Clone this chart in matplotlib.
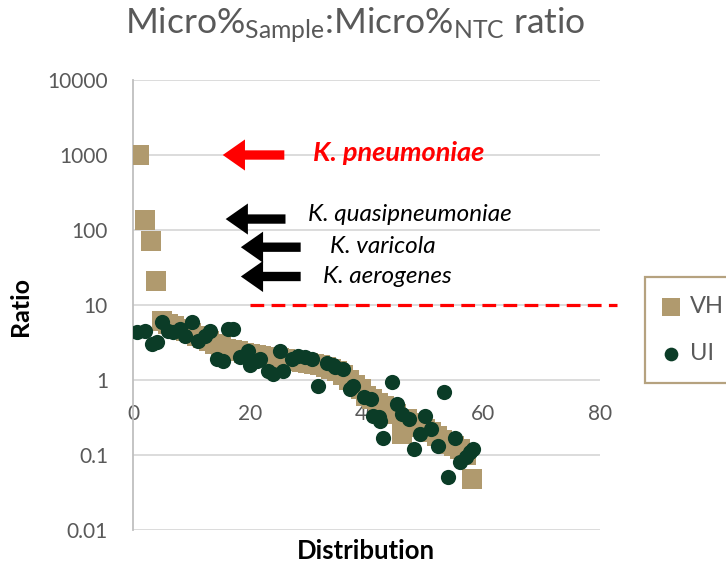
import matplotlib
matplotlib.use('Agg')
import matplotlib.pyplot as plt
import numpy as np

plt.rcParams['font.family'] = ['Lato', 'DejaVu Sans']
plt.rcParams['mathtext.default'] = 'regular'

# VH series: sample index vs ratio
vh_x = list(range(1, 59))
vh_y = [1000, 135, 72, 21, 6.2, 5.6, 5.2, 4.8, 4.5, 4.2,
        3.9, 3.6, 3.3, 3.0, 2.8, 2.6, 2.5, 2.4, 2.3, 2.2,
        2.15, 2.1, 2.05, 2.0, 1.95, 1.9, 1.85, 1.8, 1.75, 1.7,
        1.65, 1.6, 1.5, 1.4, 1.3, 1.15, 1.0, 0.85, 0.75, 0.62,
        0.55, 0.5, 0.45, 0.4, 0.35, 0.19, 0.3, 0.27, 0.24, 0.22,
        0.2, 0.18, 0.16, 0.14, 0.13, 0.12, 0.1, 0.048]

# UI series
ui_x = [0.7, 2.0, 3.3, 4.1, 5.0, 6.0, 6.9, 8.1, 8.9, 10.1,
        11.1, 12.3, 13.2, 14.4, 15.4, 16.3, 17.2, 18.4, 19.7, 20.1,
        21.3, 21.8, 23.2, 24.0, 25.2, 25.7, 27.3, 28.3, 29.5, 30.7,
        31.7, 33.2, 34.3, 34.6, 36.0, 37.2, 37.7, 39.5, 40.7, 41.2,
        42.1, 42.4, 42.9, 44.4, 45.3, 46.1, 47.2, 48.1, 49.2, 50.1,
        51.0, 52.3, 53.2, 54.0, 55.2, 56.1, 57.0, 57.8, 58.3]
ui_y = [4.4, 4.5, 3.0, 3.2, 5.9, 4.5, 4.4, 4.8, 3.9, 5.9,
        3.3, 3.9, 4.5, 1.9, 1.8, 4.8, 4.8, 2.0, 2.4, 1.6,
        1.8, 1.9, 1.3, 1.2, 2.4, 1.3, 1.9, 2.1, 2.0, 1.9,
        0.83, 1.7, 1.6, 1.5, 1.4, 0.76, 0.83, 0.6, 0.56, 0.33,
        0.32, 0.28, 0.17, 0.95, 0.48, 0.35, 0.3, 0.12, 0.19, 0.33,
        0.22, 0.13, 0.69, 0.051, 0.17, 0.08, 0.094, 0.11, 0.12]

vh_color = '#B09A6E'
ui_color = '#0B3C27'
gray = '#595959'

fig = plt.figure(figsize=(7.26, 5.69), dpi=100)
ax = fig.add_axes([0.1832, 0.0685, 0.6432, 0.7909])

ax.scatter(vh_x, vh_y, marker='s', s=190, color=vh_color, linewidths=0,
           label='VH', zorder=3)
ax.scatter(ui_x, ui_y, marker='o', s=120, color=ui_color, linewidths=0,
           label='UI', zorder=4)

ax.set_yscale('log')
ax.set_xlim(0, 80)
ax.set_ylim(0.01, 10000)
ax.set_yticks([0.01, 0.1, 1, 10, 100, 1000, 10000])
ax.set_yticklabels(['0.01', '0.1', '1', '10', '100', '1000', '10000'])
ax.set_xticks([0, 20, 40, 60, 80])
ax.minorticks_off()
ax.yaxis.grid(True, color='#D9D9D9', linewidth=1.3)
ax.set_axisbelow(True)

for s in ['top', 'right']:
    ax.spines[s].set_visible(False)
ax.spines['left'].set_color('#BFBFBF')
ax.spines['left'].set_linewidth(1.3)
ax.spines['bottom'].set_position(('data', 1))
ax.spines['bottom'].set_visible(False)
ax.tick_params(axis='both', length=0, colors=gray, labelsize=15)
ax.tick_params(axis='y', pad=18)
ax.tick_params(axis='x', pad=17)

# annotation arrows
arrows = [((26.4, 1000), (14.9, 1000), 'red'),
          ((26.6, 140), (15.4, 140), 'black'),
          ((29.2, 59), (18.0, 59), 'black'),
          ((29.2, 24), (18.0, 24), 'black')]
for start, end, c in arrows:
    ax.annotate('', xy=end, xytext=start,
                arrowprops=dict(arrowstyle='simple,head_length=1.0,head_width=1.4,tail_width=0.42',
                                color=c, lw=0, mutation_scale=16))

ax.text(30.9, 1070, 'K. pneumoniae', color='#FF0000', fontsize=19.5,
        fontweight='bold', style='italic', va='center', ha='left')
ax.text(30.0, 163, 'K. quasipneumoniae', color='black', fontsize=17.5,
        style='italic', va='center', ha='left')
ax.text(33.8, 61, 'K. varicola', color='black', fontsize=17.5,
        style='italic', va='center', ha='left')
ax.text(32.6, 23.7, 'K. aerogenes', color='black', fontsize=17.5,
        style='italic', va='center', ha='left')

# threshold line
ax.plot([20, 83], [10, 10], color='#FF0000', linewidth=2.3,
        dashes=(4.3, 2.3), clip_on=False, zorder=5)

fig.text(355 / 726, 0.955, 'Micro%$_{Sample}$:Micro%$_{NTC}$ ratio', color=gray,
         fontsize=25.5, ha='center', va='center')
fig.text(20 / 726, 1 - 307 / 569, 'Ratio', rotation=90, fontsize=18,
         fontweight='bold', ha='center', va='center')
fig.text(366 / 726, 1 - 551 / 569, 'Distribution', fontsize=18.5,
         fontweight='bold', ha='center', va='center')

leg = fig.legend(loc='upper left', bbox_to_anchor=(645 / 726, 1 - 277 / 569),
                 fontsize=17, frameon=True, fancybox=False, borderpad=0.8,
                 handlelength=0.6, handletextpad=0.5, labelspacing=1.1,
                 markerscale=0.9, borderaxespad=0)
leg.get_frame().set_edgecolor('#A38B5F')
leg.get_frame().set_linewidth(1.6)
for t in leg.get_texts():
    t.set_color(gray)

fig.savefig('out.png', dpi=100)
